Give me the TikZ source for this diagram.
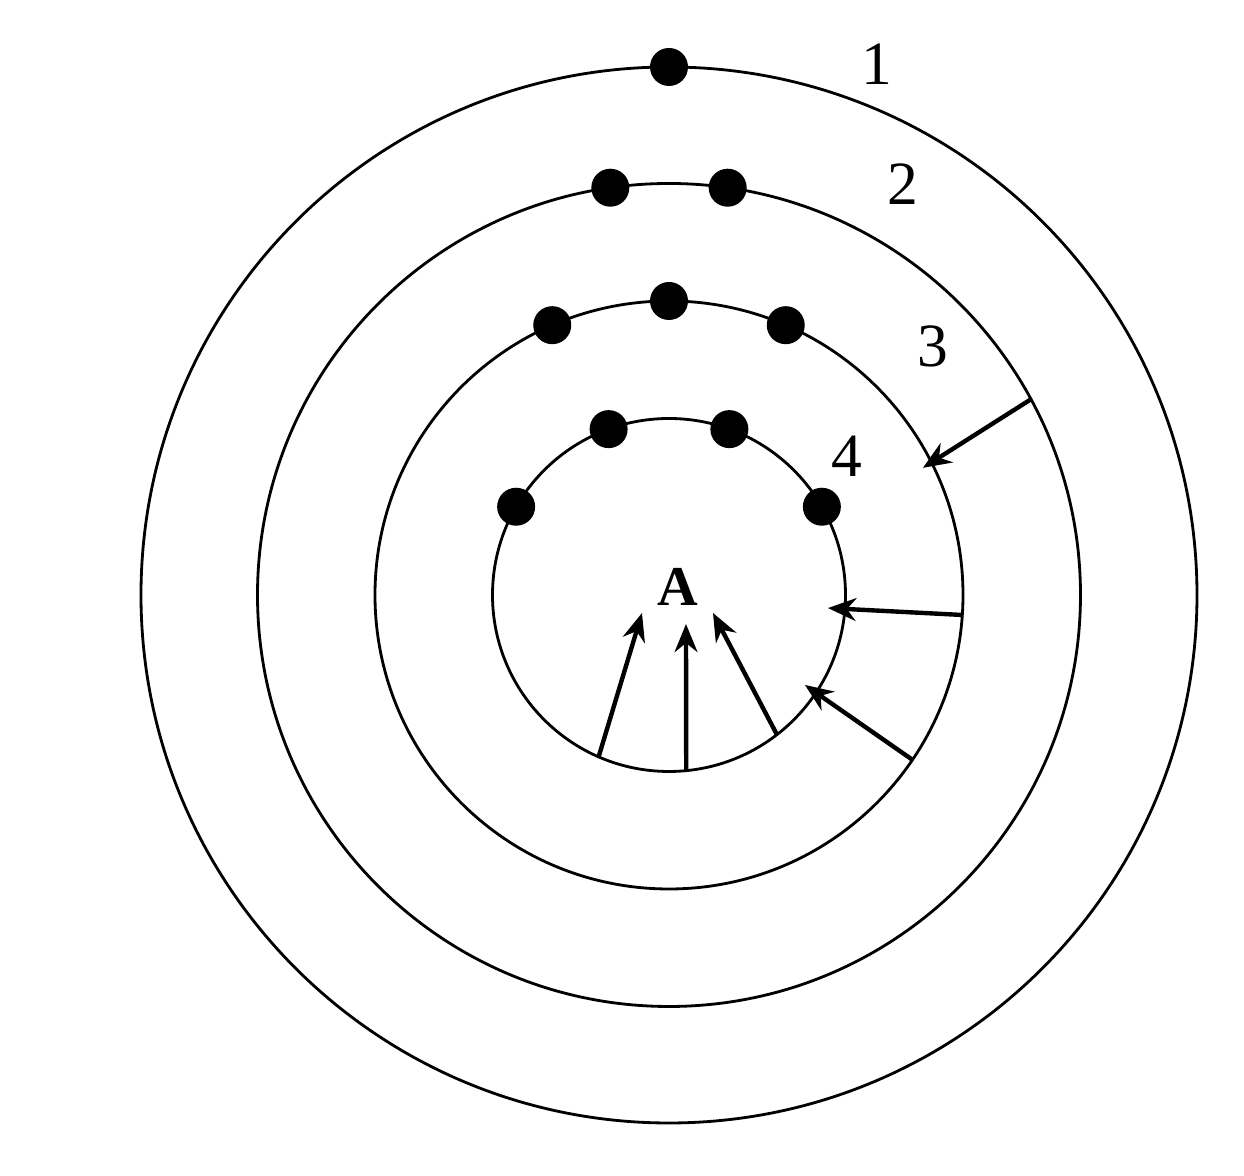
\documentclass[tikz,border=0pt]{standalone}
\usepackage{fontspec}
\setmainfont{Liberation Serif}
\usetikzlibrary{arrows.meta}
\tikzset{
  orbit/.style={line width=0.8pt},
  electron/.style={circle,fill=black,inner sep=0pt,minimum size=0.38cm},
  flow/.style={line width=1.25pt,-{Stealth[length=8pt,width=6.5pt]}},
  shell/.style={font=\fontsize{17.5}{20}\selectfont}
}
\begin{document}
\begin{tikzpicture}
\useasboundingbox (-6.69,-5.81) rectangle (5.75,5.95);
\coordinate (O) at (0,0);

\foreach \r in {5.28,4.115,2.94,1.765}
  \draw[orbit] (O) circle (\r);

\node[electron] (e11) at (90:5.28) {};
\foreach \a [count=\i] in {81.8,98.2}
  \node[electron] (e2\i) at (\a:4.115) {};
\foreach \a [count=\i] in {66.6,90,113.4}
  \node[electron] (e3\i) at (\a:2.94) {};
\foreach \a [count=\i] in {70,110,30,150}
  \node[electron] (e4\i) at (\a:1.765) {};

\node[shell] (n1) at (2.08,5.31) {1};
\node[shell] (n2) at (2.34,4.11) {2};
\node[shell] (n3) at (2.64,2.49) {3};
\node[shell] (n4) at (1.78,1.39) {4};
\node[font=\bfseries\fontsize{16}{19}\selectfont] (A) at (0.09,0.08) {A};

\coordinate (s1) at (28.4:4.115);
\coordinate (t1) at (26.6:2.84);
\coordinate (s2) at (-3.9:2.94);
\coordinate (t2) at (-4.7:1.595);
\coordinate (s3) at (-34.1:2.94);
\coordinate (t3) at (-33.5:1.63);
\draw[flow] (s1) -- (t1);
\draw[flow] (s2) -- (t2);
\draw[flow] (s3) -- (t3);

\coordinate (a1) at (246.5:1.765);
\coordinate (a2) at (275.6:1.765);
\coordinate (a3) at (307.7:1.765);
\coordinate (b1) at (-0.27,-0.18);
\coordinate (b2) at (0.17,-0.29);
\coordinate (b3) at (0.44,-0.18);
\foreach \i in {1,2,3}
  \draw[flow] (a\i) -- (b\i);
\end{tikzpicture}
\end{document}
